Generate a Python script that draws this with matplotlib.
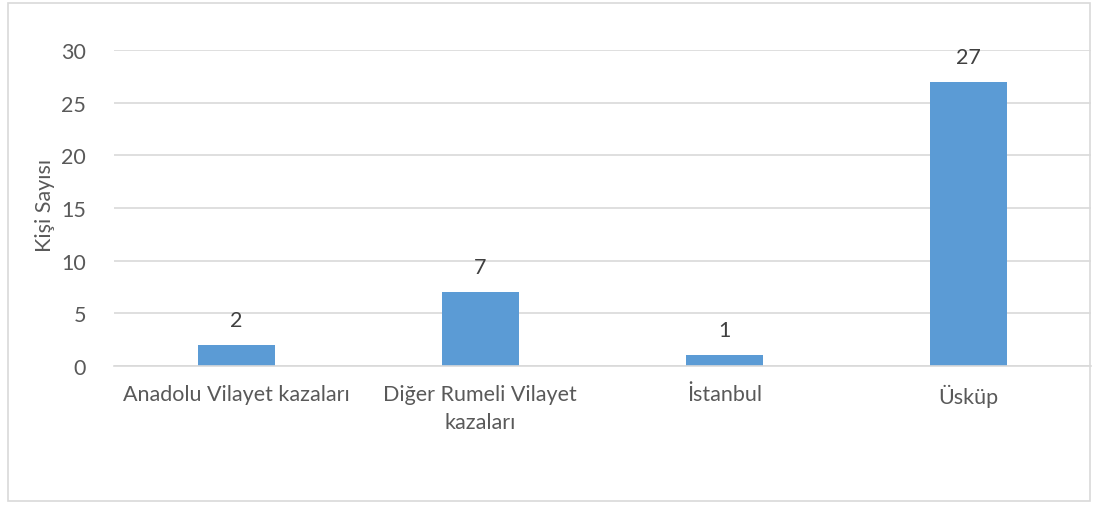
import matplotlib.pyplot as plt
from matplotlib.patches import Rectangle

# Veriler
kategoriler = ['Anadolu Vilayet kazaları', 'Diğer Rumeli Vilayet\nkazaları',
               'İstanbul', 'Üsküp']
kisi_sayisi = [2, 7, 1, 27]
y_ticks = [0, 5, 10, 15, 20, 25, 30]

plt.rcParams['font.family'] = ['Lato', 'DejaVu Sans']

fig = plt.figure(figsize=(10.96, 5.06), dpi=100)
ax = fig.add_axes([114 / 1096, 1 - 367 / 506, (1090.5 - 114) / 1096,
                   (367 - 51) / 506])

x = range(len(kategoriler))
bars = ax.bar(x, kisi_sayisi, width=0.315, color='#5B9BD5', zorder=3)

# Cubuklarin ustune degerleri yaz
for xi, v in zip(x, kisi_sayisi):
    ax.annotate(str(v), (xi, v), xytext=(0, 18), textcoords='offset points',
                ha='center', va='center', fontsize=15.5, color='#404040')

ax.set_xlim(-0.5, len(kategoriler) - 0.5)
ax.set_ylim(0, 30)
ax.set_yticks(y_ticks)
ax.set_xticks(list(x))
ax.set_xticklabels(kategoriler, fontsize=15.5, color='#595959',
                   linespacing=1.5)
ax.tick_params(axis='x', length=0, pad=13)
ax.tick_params(axis='y', length=0, pad=20, labelsize=15.5, labelcolor='#595959')
ax.grid(axis='y', color='#D9D9D9', linewidth=1.2, zorder=0)
for s in ['top', 'right', 'left']:
    ax.spines[s].set_visible(False)
ax.spines['bottom'].set_color('#D9D9D9')
ax.spines['bottom'].set_linewidth(1.2)
ax.spines['bottom'].set_zorder(4)

fig.text(45 / 1096, 1 - 205 / 506, 'Kişi Sayısı', rotation=90, ha='center',
         va='center', fontsize=15.5, color='#595959')

# Grafik cercevesi
fig.patches.append(Rectangle((8 / 1096, 4 / 506), 1082 / 1096, 498 / 506,
                             transform=fig.transFigure, fill=False,
                             edgecolor='#D9D9D9', linewidth=1.2))

fig.savefig('out.png', dpi=100)
